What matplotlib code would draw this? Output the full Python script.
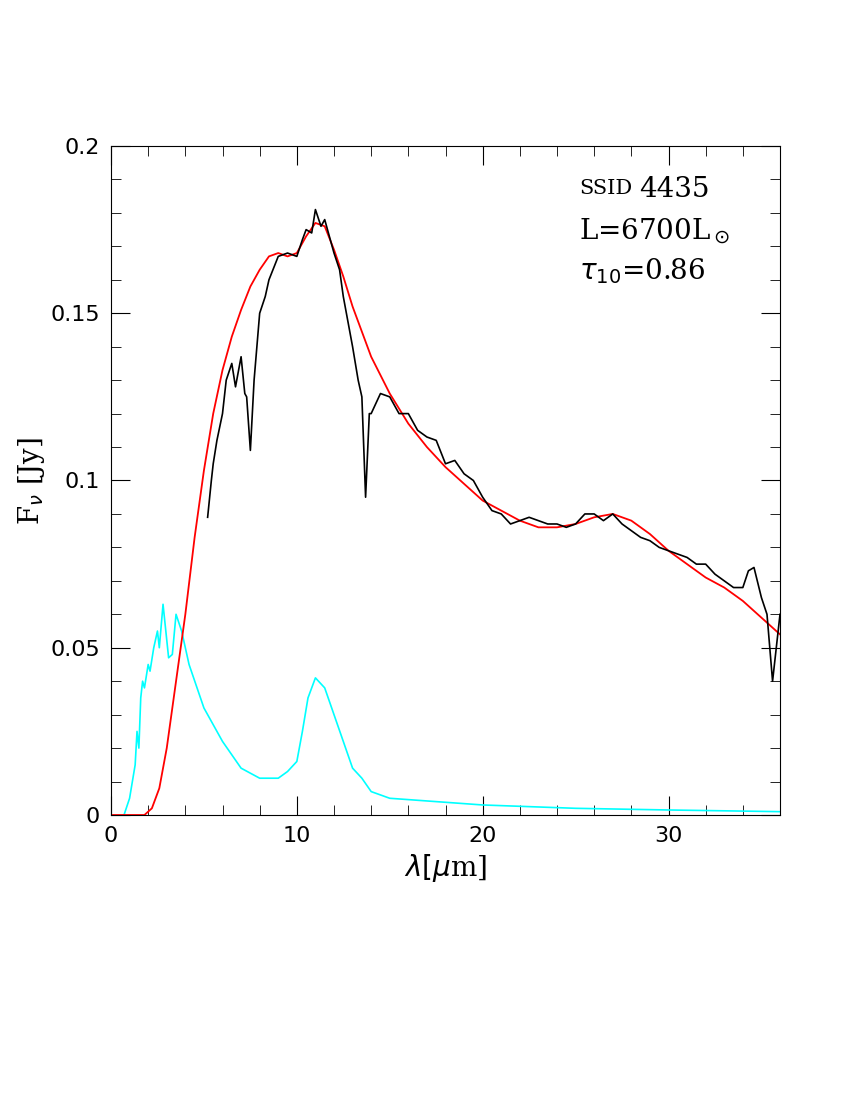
import matplotlib
matplotlib.use("Agg")
import matplotlib.pyplot as plt
from matplotlib.ticker import MultipleLocator, FuncFormatter

obs_x = [5.2,5.4,5.5,5.7,6,6.2,6.5,6.7,7,7.2,7.3,7.5,7.7,8,8.3,8.5,9,9.5,10,10.3,10.5,10.8,11,11.3,11.5,12,12.3,12.5,13,13.3,13.5,13.7,13.9,14,14.5,15,15.5,16,16.5,17,17.5,18,18.5,19,19.5,20,20.5,21,21.5,22,22.5,23,23.5,24,24.5,25,25.5,26,26.5,27,27.5,28,28.5,29,29.5,30,30.5,31,31.5,32,32.5,33,33.5,34,34.3,34.6,35,35.3,35.6,36]
obs_y = [0.089,0.1,0.105,0.112,0.12,0.13,0.135,0.128,0.137,0.126,0.125,0.109,0.13,0.15,0.155,0.16,0.167,0.168,0.167,0.172,0.175,0.174,0.181,0.176,0.178,0.168,0.163,0.155,0.14,0.13,0.125,0.095,0.12,0.12,0.126,0.125,0.12,0.12,0.115,0.113,0.112,0.105,0.106,0.102,0.1,0.095,0.091,0.09,0.087,0.088,0.089,0.088,0.087,0.087,0.086,0.087,0.09,0.09,0.088,0.09,0.087,0.085,0.083,0.082,0.08,0.079,0.078,0.077,0.075,0.075,0.072,0.07,0.068,0.068,0.073,0.074,0.065,0.06,0.04,0.06]

mod_x = [0,1.8,2.2,2.6,3,3.5,4,4.5,5,5.5,6,6.5,7,7.5,8,8.5,9,9.5,10,10.5,11,11.5,12,12.5,13,14,15,16,17,18,19,20,21,22,23,24,25,26,27,28,29,30,31,32,33,34,35,36]
mod_y = [0,0,0.002,0.008,0.02,0.04,0.06,0.083,0.103,0.12,0.133,0.143,0.151,0.158,0.163,0.167,0.168,0.167,0.168,0.173,0.177,0.176,0.169,0.161,0.152,0.137,0.126,0.117,0.11,0.104,0.099,0.094,0.091,0.088,0.086,0.086,0.087,0.089,0.09,0.088,0.084,0.079,0.075,0.071,0.068,0.064,0.059,0.054]

star_x = [0.7,1,1.3,1.4,1.5,1.6,1.7,1.8,2,2.1,2.3,2.5,2.6,2.8,3.1,3.3,3.5,3.8,4.2,5,6,7,8,9,9.5,10,10.3,10.6,11,11.5,12,13,13.5,14,15,20,25,30,36]
star_y = [0,0.005,0.015,0.025,0.02,0.035,0.04,0.038,0.045,0.043,0.05,0.055,0.05,0.063,0.047,0.048,0.06,0.055,0.045,0.032,0.022,0.014,0.011,0.011,0.013,0.016,0.025,0.035,0.041,0.038,0.03,0.014,0.011,0.007,0.005,0.003,0.002,0.0015,0.001]

fig = plt.figure(figsize=(8.5, 11), dpi=100)
ax = fig.add_axes([111/850, 1-815/1100, 669/850, 669/1100])
ax.plot(star_x, star_y, color="cyan", lw=1.2)
ax.plot(mod_x, mod_y, color="red", lw=1.3)
ax.plot(obs_x, obs_y, color="black", lw=1.2)
ax.set_xlim(0, 36)
ax.set_ylim(0, 0.2)
ax.xaxis.set_major_locator(MultipleLocator(10))
ax.xaxis.set_minor_locator(MultipleLocator(2))
ax.yaxis.set_major_locator(MultipleLocator(0.05))
ax.yaxis.set_minor_locator(MultipleLocator(0.01))
ax.yaxis.set_major_formatter(FuncFormatter(lambda v, p: "0" if v == 0 else f"{v:g}"))
ax.tick_params(which="both", direction="in", top=True, right=True, labelsize=16, pad=8)
ax.tick_params(which="major", length=14)
ax.tick_params(which="minor", length=7)
ax.set_xlabel(r"$\lambda[\mu$m]", fontsize=20, family="DejaVu Serif")
ax.set_ylabel(r"F$_\nu$ [Jy]", fontsize=20, family="DejaVu Serif", labelpad=2)
ax.text(0.7, 0.95, "SSID", transform=ax.transAxes, fontsize=15, family="DejaVu Serif", va="top")
ax.text(0.79, 0.955, "4435", transform=ax.transAxes, fontsize=20, family="DejaVu Serif", va="top")
ax.text(0.7, 0.895, r"L=6700L$_\odot$", transform=ax.transAxes, fontsize=20, family="DejaVu Serif", va="top")
ax.text(0.7, 0.835, r"$\tau_{10}$=0.86", transform=ax.transAxes, fontsize=20, family="DejaVu Serif", va="top")
fig.savefig("out.png")
